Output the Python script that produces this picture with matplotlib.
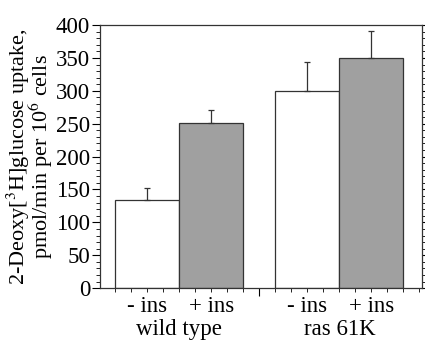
import numpy as np
import matplotlib.pyplot as plt
from matplotlib.ticker import MultipleLocator
import matplotlib.transforms as mtransforms

plt.rcParams['font.family'] = 'Liberation Serif'
plt.rcParams['mathtext.fontset'] = 'stix'

groups = ['wild type', 'ras 61K']
conds = ['- ins', '+ ins']
values = [134, 251, 300, 350]
errors = [18, 20, 44, 41]
colors = ['white', '#a0a0a0', 'white', '#a0a0a0']
xpos = np.array([0, 1, 2.5, 3.5])

fig = plt.figure(figsize=(4.25, 3.43), dpi=100)
ax = fig.add_axes([0.235, 0.160, 0.758, 0.767])

ax.bar(xpos, values, width=1.0, color=colors, edgecolor='#333333', linewidth=0.9)
ax.errorbar(xpos, values, yerr=[np.zeros(4), errors], fmt='none',
            ecolor='#333333', elinewidth=0.9, capsize=2.5, capthick=0.9)

ax.set_xlim(-0.74, 4.29)
ax.set_ylim(0, 400)
ax.yaxis.set_major_locator(MultipleLocator(50))
ax.yaxis.set_minor_locator(MultipleLocator(10))
ax.tick_params(axis='y', which='both', direction='out', labelsize=16.5, pad=1)
ax.tick_params(axis='y', which='major', length=6)
ax.tick_params(axis='y', which='minor', length=3)
ax.tick_params(axis='y', which='both', right=True, labelright=False)

# long tick between the groups, short ticks every quarter bar
ax.set_xticks([1.75])
ax.set_xticklabels([''])
ax.set_xticks(np.arange(-0.5, 4.3, 0.25), minor=True)
ax.tick_params(axis='x', which='major', direction='out', length=6)
ax.tick_params(axis='x', which='minor', direction='out', length=3)

for sp in ax.spines.values():
    sp.set_linewidth(0.9)
    sp.set_color('#333333')

ax.set_ylabel('2-Deoxy[$^3$H]glucose uptake,\npmol/min per 10$^6$ cells',
              fontsize=16, linespacing=0.72, labelpad=1)

trans = mtransforms.blended_transform_factory(ax.transData, ax.transAxes)
for x, c in zip(xpos, conds * 2):
    ax.text(x, -0.091, c, transform=trans, ha='center', va='baseline', fontsize=16.5)
ax.text(0.5, -0.178, groups[0], transform=trans, ha='center', va='baseline', fontsize=16.5)
ax.text(3.0, -0.178, groups[1], transform=trans, ha='center', va='baseline', fontsize=16.5)

fig.savefig('out.png', dpi=100)
